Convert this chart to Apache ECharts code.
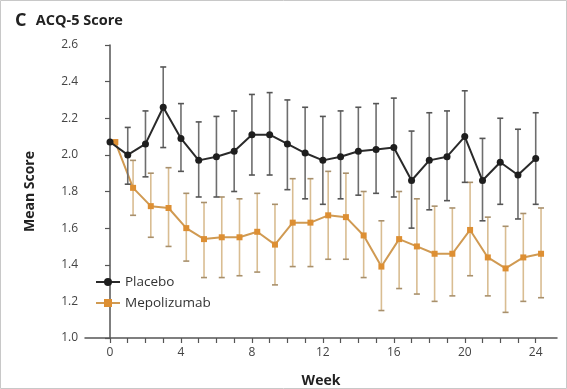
<!DOCTYPE html>
<html>
<head>
<meta charset="utf-8">
<script src="https://cdn.jsdelivr.net/npm/echarts@6/dist/echarts.min.js"></script>
<style>
  html, body { margin: 0; padding: 0; background: #fff; }
  #chart { width: 567px; height: 389px; }
</style>
</head>
<body>
<div id="chart"></div>
<script>
// ACQ-5 score by study week, mean with error bars
const weeks = [0, 1, 2, 3, 4, 5, 6, 7, 8, 9, 10, 11, 12, 13, 14, 15, 16, 17, 18, 19, 20, 21, 22, 23, 24];
const weekLabels = [0, 4, 8, 12, 16, 20, 24];

const placeboMean = [2.07, 2.00, 2.06, 2.26, 2.09, 1.97, 1.99, 2.02, 2.11, 2.11, 2.06, 2.01, 1.97, 1.99, 2.02, 2.03, 2.04, 1.86, 1.97, 1.99, 2.10, 1.86, 1.96, 1.89, 1.98];
const placeboLow  = [null, 1.84, 1.88, 2.04, 1.91, 1.77, 1.77, 1.80, 1.89, 1.89, 1.81, 1.76, 1.73, 1.76, 1.78, 1.79, 1.77, 1.60, 1.70, 1.75, 1.85, 1.64, 1.73, 1.65, 1.73];
const placeboHigh = [null, 2.15, 2.24, 2.48, 2.28, 2.18, 2.21, 2.24, 2.33, 2.34, 2.30, 2.26, 2.21, 2.24, 2.26, 2.28, 2.31, 2.13, 2.23, 2.24, 2.35, 2.09, 2.20, 2.14, 2.23];

const mepoMean = [2.07, 1.82, 1.72, 1.71, 1.60, 1.54, 1.55, 1.55, 1.58, 1.51, 1.63, 1.63, 1.67, 1.66, 1.56, 1.39, 1.54, 1.50, 1.46, 1.46, 1.59, 1.44, 1.38, 1.44, 1.46];
const mepoLow  = [null, 1.67, 1.55, 1.50, 1.42, 1.33, 1.33, 1.34, 1.36, 1.29, 1.39, 1.39, 1.43, 1.43, 1.33, 1.15, 1.27, 1.24, 1.20, 1.23, 1.34, 1.23, 1.14, 1.20, 1.22];
const mepoHigh = [null, 1.97, 1.90, 1.93, 1.79, 1.74, 1.77, 1.76, 1.79, 1.73, 1.87, 1.87, 1.91, 1.90, 1.80, 1.64, 1.80, 1.76, 1.72, 1.71, 1.85, 1.66, 1.61, 1.68, 1.71];

// small horizontal dodge so the two groups' bars don't overlap
const dodge = 0.3;
const mepoWeeks = weeks.map(w => w + dodge);

const FONT = '"Open Sans", "Liberation Sans", sans-serif';

function errorBarSeries(name, xs, lows, highs, barColor, capColor, z) {
  const data = [];
  xs.forEach((x, i) => {
    if (lows[i] != null && highs[i] != null) data.push([x, lows[i], highs[i]]);
  });
  return {
    type: 'custom',
    name: name,
    silent: true,
    z: z,
    encode: { x: 0, y: [1, 2] },
    data: data,
    renderItem: function (params, api) {
      const x = api.value(0);
      const lo = api.coord([x, api.value(1)]);
      const hi = api.coord([x, api.value(2)]);
      const half = 3;
      return {
        type: 'group',
        children: [
          { type: 'line', shape: { x1: lo[0], y1: lo[1], x2: hi[0], y2: hi[1] },
            style: { stroke: barColor, lineWidth: 1.6 } },
          { type: 'line', shape: { x1: hi[0] - half, y1: hi[1], x2: hi[0] + half, y2: hi[1] },
            style: { stroke: capColor, lineWidth: 1.6 } },
          { type: 'line', shape: { x1: lo[0] - half, y1: lo[1], x2: lo[0] + half, y2: lo[1] },
            style: { stroke: capColor, lineWidth: 1.6 } }
        ]
      };
    }
  };
}

const chart = echarts.init(document.getElementById('chart'), null, { renderer: 'canvas' });

chart.setOption({
  animation: false,
  backgroundColor: '#fff',
  textStyle: { fontFamily: FONT },
  title: {
    left: 10,
    top: 7,
    text: '{c|C}  {t|ACQ-5 Score}',
    textStyle: {
      rich: {
        c: { fontFamily: FONT, fontWeight: 'bold', fontSize: 18, color: '#222' },
        t: { fontFamily: FONT, fontWeight: 'bold', fontSize: 14.5, color: '#222' }
      }
    }
  },
  legend: {
    orient: 'vertical',
    left: 90,
    top: 270,
    itemWidth: 24,
    itemHeight: 10,
    itemGap: 7,
    data: ['Placebo', 'Mepolizumab'],
    textStyle: { fontFamily: FONT, fontSize: 13.5, color: '#333', lineHeight: 14 }
  },
  grid: { left: 85, right: 10, top: 45, bottom: 51, containLabel: false, outerBoundsMode: 'none' },
  xAxis: {
    type: 'value',
    min: -1.41,
    max: 25.2,
    name: 'Week',
    nameLocation: 'middle',
    nameGap: 36,
    nameTextStyle: { fontFamily: FONT, fontWeight: 'bold', fontSize: 14, color: '#222' },
    axisLine: { show: true, lineStyle: { color: '#555', width: 1.5 } },
    axisTick: { show: true, customValues: weeks, length: 5, lineStyle: { color: '#555', width: 1.2 } },
    axisLabel: { customValues: weekLabels, margin: 9, fontFamily: FONT, fontSize: 12, color: '#444' },
    splitLine: { show: false }
  },
  yAxis: {
    type: 'value',
    min: 1.0,
    max: 2.6,
    interval: 0.2,
    name: 'Mean Score',
    nameLocation: 'middle',
    nameGap: 48,
    nameRotate: 90,
    nameTextStyle: { fontFamily: FONT, fontWeight: 'bold', fontSize: 14, color: '#222' },
    axisLine: { show: true, lineStyle: { color: '#555', width: 1.5 } },
    axisTick: { show: true, length: 5, lineStyle: { color: '#555', width: 1.2 } },
    axisLabel: { margin: 7, fontFamily: FONT, fontSize: 12, color: '#444',
                 formatter: v => v.toFixed(1) },
    splitLine: { show: false }
  },
  series: [
    errorBarSeries('mepoErr', mepoWeeks, mepoLow, mepoHigh, '#d9bd92', '#a8906c', 2),
    {
      name: 'Mepolizumab',
      type: 'line',
      z: 3,
      data: mepoWeeks.map((w, i) => [w, mepoMean[i]]),
      symbol: 'rect',
      symbolSize: 6,
      showAllSymbol: true,
      lineStyle: { color: '#d09a52', width: 2 },
      itemStyle: { color: '#dd8f33', borderWidth: 0 }
    },
    errorBarSeries('placeboErr', weeks, placeboLow, placeboHigh, '#6e6e6e', '#555', 4),
    {
      name: 'Placebo',
      type: 'line',
      z: 5,
      data: weeks.map((w, i) => [w, placeboMean[i]]),
      symbol: 'circle',
      symbolSize: 7,
      showAllSymbol: true,
      lineStyle: { color: '#2a2a2a', width: 2 },
      itemStyle: { color: '#1e1e1e', borderWidth: 0 }
    }
  ],
  graphic: [
    { type: 'rect', silent: true, z: 100,
      shape: { x: 0.5, y: 0.5, width: 566, height: 388 },
      style: { fill: 'none', stroke: '#c8c8c8', lineWidth: 1 } }
  ]
});
</script>
</body>
</html>
